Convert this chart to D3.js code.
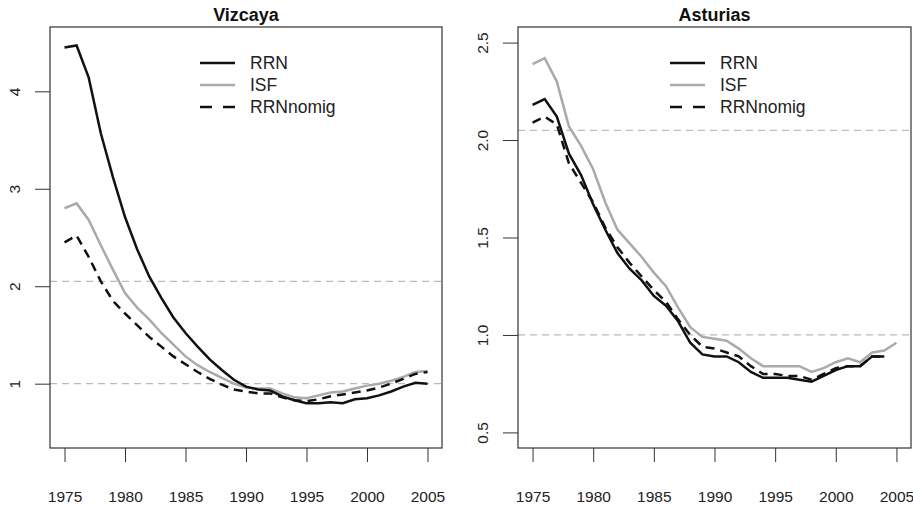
<!DOCTYPE html>
<meta charset="utf-8">
<style>
  body { margin: 0; background: #fff; }
  svg { font-family: "Liberation Sans", Arial, sans-serif; }
  .axis path, .axis line { stroke: #333; }
  .axis text { fill: #222; font-size: 15.5px; }
  .ref { stroke: #bbb; stroke-dasharray: 7,5; stroke-width: 1.2; }
</style>
<svg width="913" height="505"></svg>
<script src="https://d3js.org/d3.v7.min.js"></script>
<script>
  var years = d3.range(1975, 2006);
  var yearTicks = [1975, 1980, 1985, 1990, 1995, 2000, 2005];
  var seriesNames = ["RRN", "ISF", "RRNnomig"];

  // Vizcaya
  var vizRRN = [4.45, 4.47, 4.14, 3.57, 3.12, 2.71, 2.38, 2.10, 1.88, 1.68, 1.52, 1.38, 1.25, 1.14, 1.04, 0.97,
    0.94, 0.93, 0.87, 0.83, 0.80, 0.80, 0.81, 0.80, 0.84, 0.85, 0.88, 0.92, 0.97, 1.01, 1.00];
  var vizISF = [2.80, 2.85, 2.68, 2.42, 2.17, 1.93, 1.78, 1.66, 1.52, 1.40, 1.28, 1.19, 1.12, 1.06, 1.00, 0.96,
    0.95, 0.95, 0.90, 0.86, 0.85, 0.88, 0.91, 0.92, 0.95, 0.98, 1.00, 1.03, 1.07, 1.12, 1.13];
  var vizNomig = [2.45, 2.52, 2.30, 2.05, 1.85, 1.72, 1.60, 1.48, 1.38, 1.28, 1.20, 1.12, 1.05, 0.99, 0.94, 0.92,
    0.90, 0.90, 0.86, 0.83, 0.82, 0.84, 0.87, 0.89, 0.91, 0.93, 0.96, 1.00, 1.05, 1.10, 1.12];

  // Asturias (RRN series stop at 2004)
  var astRRN = [2.18, 2.21, 2.12, 1.93, 1.82, 1.67, 1.54, 1.42, 1.34, 1.28, 1.20, 1.15, 1.07, 0.96, 0.90, 0.89,
    0.89, 0.86, 0.81, 0.78, 0.78, 0.78, 0.77, 0.76, 0.79, 0.82, 0.84, 0.84, 0.89, 0.89];
  var astISF = [2.39, 2.42, 2.30, 2.07, 1.97, 1.85, 1.68, 1.54, 1.47, 1.40, 1.32, 1.25, 1.14, 1.04, 0.99, 0.98,
    0.97, 0.93, 0.88, 0.84, 0.84, 0.84, 0.84, 0.81, 0.83, 0.86, 0.88, 0.86, 0.91, 0.92, 0.96];
  var astNomig = [2.09, 2.12, 2.08, 1.88, 1.78, 1.68, 1.55, 1.45, 1.37, 1.30, 1.23, 1.17, 1.08, 1.00, 0.94, 0.93,
    0.91, 0.89, 0.84, 0.80, 0.80, 0.79, 0.79, 0.77, 0.80, 0.83, 0.84, 0.84, 0.89, 0.89];

  var refLines = [2.05, 1.0];

  var styles = {
    RRN: { color: "#111", dash: null, legendDash: null },
    ISF: { color: "#aaa", dash: null, legendDash: null },
    RRNnomig: { color: "#111", dash: "9,6", legendDash: "12,11" }
  };

  var svg = d3.select("svg");

  function panel(opts) {
    var g = svg.append("g");
    var x = d3.scaleLinear()
      .domain([1975 - 1.2, 2005 + 1.2])
      .range([opts.left, opts.right]);
    var pad = (opts.ylim[1] - opts.ylim[0]) * 0.04;
    var y = d3.scaleLinear()
      .domain([opts.ylim[0] - pad, opts.ylim[1] + pad])
      .range([opts.bottom, opts.top]);

    // dashed reference lines
    g.selectAll("line.ref")
      .data(refLines)
      .enter().append("line")
      .attr("class", "ref")
      .attr("x1", opts.left).attr("x2", opts.right)
      .attr("y1", function(d) { return y(d); })
      .attr("y2", function(d) { return y(d); });

    // series
    var line = d3.line()
      .x(function(d) { return x(d[0]); })
      .y(function(d) { return y(d[1]); });

    var data = [
      { name: "ISF", values: opts.isf },
      { name: "RRNnomig", values: opts.nomig },
      { name: "RRN", values: opts.rrn }
    ];
    g.selectAll("path.series")
      .data(data)
      .enter().append("path")
      .attr("class", "series")
      .attr("fill", "none")
      .attr("stroke", function(d) { return styles[d.name].color; })
      .attr("stroke-width", 2.5)
      .attr("stroke-dasharray", function(d) { return styles[d.name].dash; })
      .attr("d", function(d) {
        return line(d.values.map(function(v, i) { return [years[i], v]; }));
      });

    // box
    g.append("rect")
      .attr("x", opts.left).attr("y", opts.top)
      .attr("width", opts.right - opts.left)
      .attr("height", opts.bottom - opts.top)
      .attr("fill", "none")
      .attr("stroke", "#333")
      .attr("stroke-width", 1.2);

    // x axis
    var xa = g.append("g")
      .attr("class", "axis")
      .attr("transform", "translate(0," + opts.bottom + ")")
      .call(d3.axisBottom(x).tickValues(yearTicks).tickFormat(d3.format("d")).tickSize(14).tickPadding(29));
    xa.select(".domain").remove();

    // y axis
    var ya = g.append("g")
      .attr("class", "axis")
      .attr("transform", "translate(" + opts.left + ",0)")
      .call(d3.axisLeft(y).tickValues(opts.yticks).tickFormat(opts.yfmt).tickSize(15));
    ya.select(".domain").remove();
    ya.selectAll("text")
      .attr("x", null).attr("dy", "0.35em")
      .attr("text-anchor", "middle")
      .attr("transform", "translate(-35,0) rotate(-90)");

    // title
    g.append("text")
      .attr("x", (opts.left + opts.right) / 2)
      .attr("y", 21)
      .attr("text-anchor", "middle")
      .attr("font-weight", "bold")
      .attr("font-size", 18)
      .attr("fill", "#111")
      .text(opts.title);

    // legend
    var lg = g.append("g")
      .attr("transform", "translate(" + opts.legendX + ",63)");
    var items = lg.selectAll("g")
      .data(seriesNames)
      .enter().append("g")
      .attr("transform", function(d, i) { return "translate(0," + (i * 22) + ")"; });
    items.append("line")
      .attr("x1", 0).attr("x2", 35)
      .attr("stroke", function(d) { return styles[d].color; })
      .attr("stroke-width", 2.5)
      .attr("stroke-dasharray", function(d) { return styles[d].legendDash; });
    items.append("text")
      .attr("x", 50)
      .attr("dy", "0.35em")
      .attr("font-size", 17.5)
      .attr("fill", "#222")
      .text(function(d) { return d; });
  }

  panel({
    title: "Vizcaya", left: 50, right: 442, top: 27, bottom: 448,
    ylim: [0.5, 4.5], yticks: [1, 2, 3, 4], yfmt: d3.format("d"),
    rrn: vizRRN, isf: vizISF, nomig: vizNomig, legendX: 200
  });

  panel({
    title: "Asturias", left: 518, right: 911, top: 27, bottom: 448,
    ylim: [0.5, 2.5], yticks: [0.5, 1.0, 1.5, 2.0, 2.5], yfmt: d3.format(".1f"),
    rrn: astRRN, isf: astISF, nomig: astNomig, legendX: 670
  });
</script>
